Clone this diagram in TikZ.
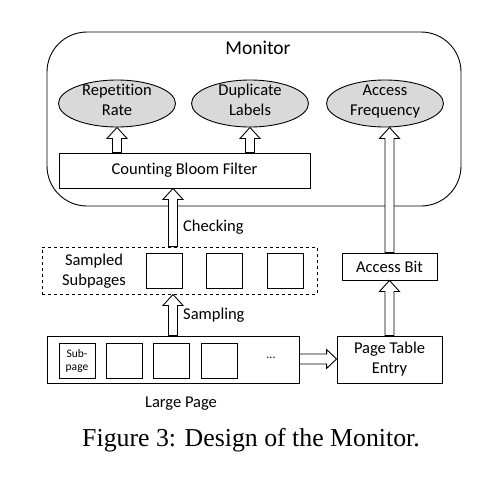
\documentclass[tikz,border=0pt]{standalone}
\usepackage{fontspec}
\setmainfont{Carlito}[Ligatures=NoCommon]
\newfontfamily\capfont{Liberation Serif}
\usetikzlibrary{calc}
\usetikzlibrary{shapes.geometric}
\definecolor{ovalgray}{RGB}{217,217,217}
\tikzset{box/.style={draw, line width=0.9pt, inner sep=0pt, align=center, font=\fontsize{16.5}{20}\selectfont}}
\tikzset{oval/.style={box, ellipse, fill=ovalgray, minimum width=117pt, minimum height=47pt}}
\tikzset{sq/.style={box, minimum width=36pt, minimum height=35pt}}
\tikzset{hollow/.style={draw, line width=0.9pt, fill=white, line join=miter}}
\tikzset{lbl/.style={inner sep=0pt, align=center, font=\fontsize{16.5}{19.5}\selectfont}}
% block arrows, going up / going right
\newcommand{\hollowup}[2]{\draw[hollow] let \p1=(#1), \p2=(#2) in (\x1-4.5pt,\y1) -- (\x1-4.5pt,\y2-11pt) -- (\x1-10pt,\y2-11pt) -- (\x1,\y2) -- (\x1+10pt,\y2-11pt) -- (\x1+4.5pt,\y2-11pt) -- (\x1+4.5pt,\y1) -- cycle;}
\newcommand{\hollowright}[2]{\draw[hollow] let \p1=(#1), \p2=(#2) in (\x1,\y1-5pt) -- (\x2-10pt,\y1-5pt) -- (\x2-10pt,\y1-9.5pt) -- (\x2,\y1) -- (\x2-10pt,\y1+9.5pt) -- (\x2-10pt,\y1+5pt) -- (\x1,\y1+5pt) -- cycle;}

\begin{document}
\begin{tikzpicture}[x=1pt, y=-1pt]
	\useasboundingbox (0,0) rectangle (496,480);
	% monitor
	\node[box, rounded corners=40pt, minimum width=414pt, minimum height=174pt] (mon) at (254,119) {};
	\node[lbl, font=\fontsize{19.5}{22}\selectfont] (montitle) at (258,48) {Monitor};
	\node[oval] (rep) at (117,103.5) {};
	\node[oval] (dup) at (250,103.5) {};
	\node[oval] (acc) at (385,103.5) {};
	\node[lbl] (reptext) at (117,100) {Repetition\\Rate};
	\node[lbl] (duptext) at (250,100) {Duplicate\\Labels};
	\node[lbl, text depth=0pt] (acctext) at (385,100) {Access\\Frequency};
	\node[box, minimum width=251pt, minimum height=35pt] (cbf) at (184.5,170.5) {Counting Bloom Filter};
	% sampled subpages
	\node[box, dashed, minimum width=275pt, minimum height=47pt] (samp) at (179.5,270.5) {};
	\node[lbl] (samptext) at (94,271) {Sampled\\Subpages};
	\foreach \n/\x in {s1/164, s2/224, s3/285}
		\node[sq] (\n) at (\x,270.5) {};
	% large page
	\node[box, minimum width=252pt, minimum height=47pt] (lp) at (173,359.5) {};
	\node[sq, font=\fontsize{11.5}{13}\selectfont] (c1) at (77,360.5) {Sub-\\page};
	\foreach \n/\x in {c2/124, c3/171, c4/219}
		\node[sq] (\n) at (\x,360.5) {};
	\node[lbl, font=\fontsize{12}{14}\selectfont] (dots) at (271,358) {...};
	\node[lbl] (lpname) at (181,404) {Large Page};
	% page table side
	\node[box, minimum width=105pt, minimum height=47pt] (pte) at (389.5,359.5) {Page Table\\Entry};
	\node[box, minimum width=95pt, minimum height=27pt] (abit) at (389.5,266.5) {Access Bit};
	% arrows
	\coordinate (col) at (173,0);
	\coordinate (mid) at (0,359);
	\hollowup{cbf.north -| rep}{rep.south};
	\hollowup{cbf.north -| dup}{dup.south};
	\hollowup{samp.north -| col}{cbf.south -| col};
	\hollowup{lp.north -| col}{samp.south -| col};
	\hollowup{pte.north}{abit.south};
	\hollowup{abit.north}{abit.north |- acc.south};
	\hollowright{lp.east |- mid}{pte.west |- mid};
	\node[lbl, anchor=west] (chk) at (183,227) {Checking};
	\node[lbl, anchor=west] (smp) at (183,315) {Sampling};
	% caption
	\node[inner sep=0pt, font=\capfont\fontsize{25.8}{30}\selectfont] (cap) at (251,440) {Figure 3: Design of the Monitor.};
\end{tikzpicture}
\end{document}
